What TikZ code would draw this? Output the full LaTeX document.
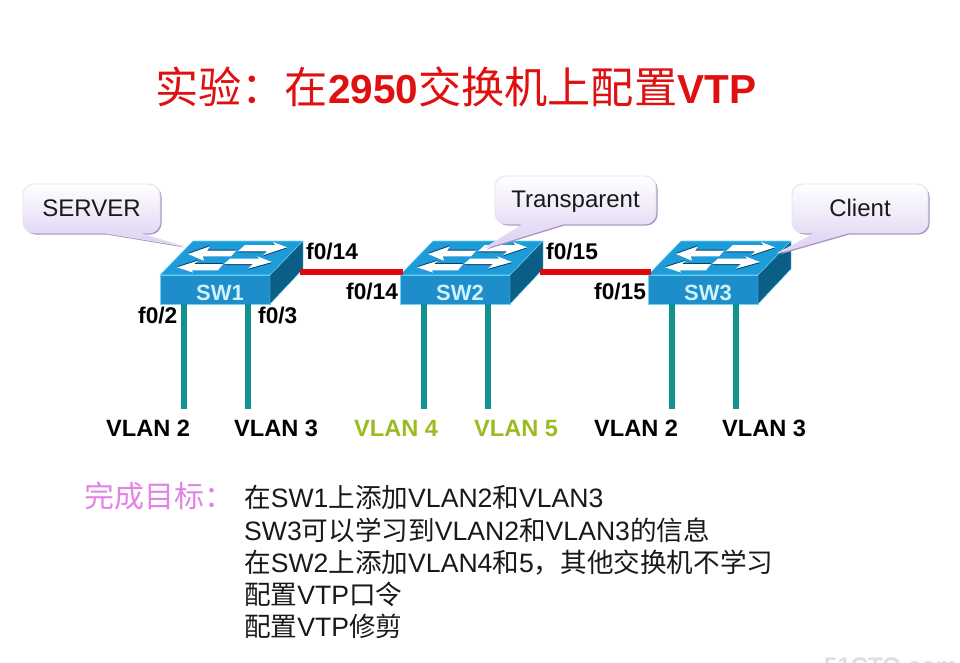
\documentclass[tikz,border=0pt]{standalone}
\usepackage{fontspec}
\setmainfont{Liberation Sans}
\newfontfamily\cjk{Noto Sans CJK SC}
\newcommand{\fs}[1]{\fontsize{#1}{#1}\selectfont}
\newcommand{\zh}[1]{{\cjk #1}}
\definecolor{swfrontc}{HTML}{1E8ECA}
\definecolor{swtopc}{HTML}{1E9CDA}
\definecolor{swsidec}{HTML}{0B5F86}
\definecolor{swedge}{HTML}{6FD2F0}
\definecolor{swlabel}{HTML}{CFF2FA}
\definecolor{swshade}{HTML}{0A3F66}
\definecolor{tealc}{HTML}{10908E}
\definecolor{redc}{HTML}{E00808}
\definecolor{calloutlow}{HTML}{DCCEF2}
\definecolor{calloutedge}{HTML}{E6DFF2}
\definecolor{calloutshadow}{HTML}{A896C4}
\definecolor{greenlabel}{HTML}{9ABB22}
\definecolor{pinktext}{HTML}{E284E6}
\definecolor{titlered}{HTML}{E01010}
\tikzset{
  swfront/.style={draw=swedge,line width=0.7pt,fill=swfrontc,minimum width=110pt,minimum height=29pt,inner sep=0pt,text=swlabel,font=\fs{22}\bfseries},
  swtop/.style={fill=swtopc,draw=swedge,line width=0.6pt,line join=round},
  swside/.style={fill=swsidec,draw=swedge,line width=0.4pt,line join=round},
  swarrow/.style={fill=white},
  swarrowshade/.style={fill=swshade},
  redlink/.style={draw=redc,line width=5.5pt},
  teallink/.style={draw=tealc,line width=5.5pt},
  portlabel/.style={anchor=base west,inner sep=0pt,font=\fs{22.7}\bfseries,text=black},
  vlanlabel/.style={anchor=base west,inner sep=0pt,font=\fs{23.6}\bfseries},
  calloutlabel/.style={inner sep=0pt,text height=15pt,text depth=0pt,font=\fs{24},text=black!90},
  calloutbody/.style={top color=white,bottom color=calloutlow,draw=calloutedge,line width=0.8pt,line join=round},
  calloutback/.style={fill=calloutshadow},
  bodyline/.style={anchor=base west,inner sep=0pt,font=\fs{26.6},text=black!90},
}
\newcommand{\arrowUL}{(28,-21) -- (50,-28.7) -- (47,-24.3) -- (76,-24.3) -- (71,-18.7) -- (43,-18.7) -- (44,-14.3) -- cycle}
\newcommand{\arrowUR}{(127,-27.7) -- (113,-33) -- (115,-30) -- (85,-30) -- (78,-23.7) -- (107,-23.7) -- (103,-19.7) -- cycle}
\newcommand{\arrowLL}{(17,-7.7) -- (38,-14.3) -- (34,-11) -- (63,-11) -- (58,-4.7) -- (32,-4.7) -- (33,-2.5) -- cycle}
\newcommand{\arrowLR}{(112,-13) -- (97,-18.7) -- (99,-16.3) -- (70,-16.3) -- (64,-11) -- (93,-11) -- (88,-6.3) -- cycle}
% name, left x of the front face, label
\newcommand{\switchunit}[3]{%
  \node[swfront] (#1) at (#2+55,289.5) {\raisebox{-10.5pt}[0pt][0pt]{\hspace*{10pt}#3}};
  \begin{scope}[shift={(#2,275)}]
    \path[swtop] (0,0) -- (33,-34) -- (143,-34) -- (110,0) -- cycle;
    \path[swside] (110,0) -- (143,-34) -- (143,-6) -- (110,29) -- cycle;
    \path[swarrowshade,yshift=1pt] \arrowUL;
    \path[swarrowshade,yshift=1pt] \arrowLL;
    \path[swarrowshade,yshift=-1pt] \arrowUR;
    \path[swarrowshade,yshift=-1pt] \arrowLR;
    \path[swarrow] \arrowUL;
    \path[swarrow] \arrowUR;
    \path[swarrow] \arrowLL;
    \path[swarrow] \arrowLR;
    \coordinate (#1-w) at (3,-3);
    \coordinate (#1-e) at (140,-3);
    \coordinate (#1-a) at (24,29);
    \coordinate (#1-b) at (88,29);
    \coordinate (#1-c) at (24,134);
    \coordinate (#1-d) at (88,134);
  \end{scope}
}
\newcommand{\calloutshape}[9]{%
  \foreach \st/\sx/\sy in {calloutback/1.5/1.5,calloutbody/0/0}{
    \path[\st,shift={(\sx,\sy)}] (#1+10,#2) [rounded corners=11pt] -- (#3,#2) -- (#3,#4) [sharp corners] -- (#6,#4) -- (#7,#8) -- (#5,#4) [rounded corners=11pt] -- (#1,#4) -- (#1,#2) [sharp corners] -- cycle;
  }
  \node[calloutlabel] (#9) at ({(#1+#3)/2},{(#2+#4)/2}) {\calloutlabeltext};
}
\begin{document}
\begin{tikzpicture}[x=1pt,y=-1pt]
\useasboundingbox (0,0) rectangle (960,662);
\fill[white] (0,0) rectangle (960,662);
\begin{scope}
\clip (0,0) rectangle (960,662);
\node[anchor=base west,inner sep=0pt,font=\fs{24}\bfseries,text=black!13] (mark) at (824,674) {51CTO.com};
\end{scope}

\node[anchor=base west,inner sep=0pt,text=titlered] (title) at (155,103) {\fs{43.2}\zh{实验：在}\fs{40.5}\bfseries 2950\fs{43.2}\mdseries\zh{交换机上配置}\fs{40.5}\bfseries VTP};

\switchunit{sw1}{160}{SW1}
\switchunit{sw2}{400}{SW2}
\switchunit{sw3}{648}{SW3}

\draw[redlink] (sw1-e) -- (sw2-w);
\draw[redlink] (sw2-e) -- (sw3-w);

\foreach \s in {sw1,sw2,sw3}{
  \draw[teallink] (\s-a) -- (\s-c);
  \draw[teallink] (\s-b) -- (\s-d);
}

\def\calloutlabeltext{SERVER}
\calloutshape{23}{184}{160}{233}{138}{105}{183}{246}{callserver}
\def\calloutlabeltext{Transparent}
\calloutshape{495}{176}{656}{224}{563}{523}{485}{248}{calltrans}
\def\calloutlabeltext{Client}
\calloutshape{792}{184}{928}{233}{848}{815}{778}{253}{callclient}

\node[portlabel] (p14a) at (306,259) {f0/14};
\node[portlabel] (p14b) at (346,299) {f0/14};
\node[portlabel] (p15a) at (546,259) {f0/15};
\node[portlabel] (p15b) at (594,299) {f0/15};
\node[portlabel] (p2) at (138,323) {f0/2};
\node[portlabel] (p3) at (258,323) {f0/3};

\node[vlanlabel] (v1) at (106,436) {VLAN 2};
\node[vlanlabel] (v2) at (234,436) {VLAN 3};
\node[vlanlabel,text=greenlabel] (v3) at (354,436) {VLAN 4};
\node[vlanlabel,text=greenlabel] (v4) at (474,436) {VLAN 5};
\node[vlanlabel] (v5) at (594,436) {VLAN 2};
\node[vlanlabel] (v6) at (722,436) {VLAN 3};

\node[anchor=base west,inner sep=0pt,text=pinktext,font=\fs{30}] (goal) at (84,507) {\zh{完成目标：}};
\node[bodyline] (l1) at (244,507) {\zh{在}SW1\zh{上添加}VLAN2\zh{和}VLAN3};
\node[bodyline] (l2) at (244,540) {SW3\zh{可以学习到}VLAN2\zh{和}VLAN3\zh{的信息}};
\node[bodyline] (l3) at (244,572) {\zh{在}SW2\zh{上添加}VLAN4\zh{和}5\zh{，其他交换机不学习}};
\node[bodyline] (l4) at (244,604) {\zh{配置}VTP\zh{口令}};
\node[bodyline] (l5) at (244,636) {\zh{配置}VTP\zh{修剪}};
\end{tikzpicture}
\end{document}
